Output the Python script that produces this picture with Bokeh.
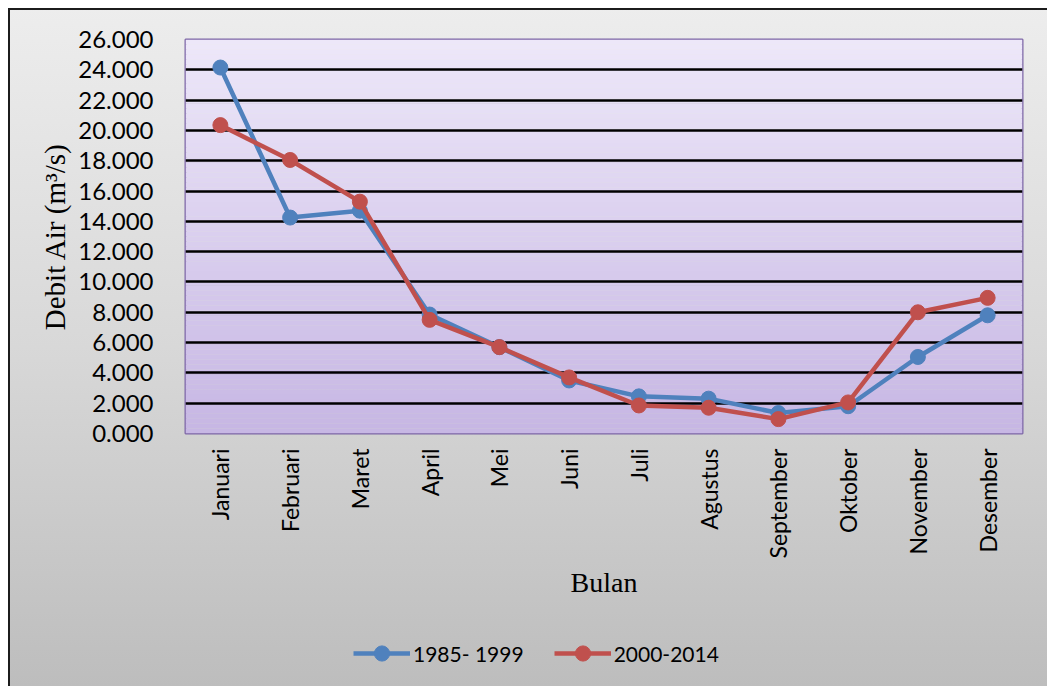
from bokeh.plotting import figure
from bokeh.layouts import column
from bokeh.models import (FactorRange, Range1d, FixedTicker, PrintfTickFormatter,
                          Legend, LegendItem, BoxAnnotation)
from bokeh.embed import file_html
from bokeh.resources import INLINE
import numpy as np
from math import pi

# Monthly mean river discharge (m3/s) for two periods
months = ["Januari", "Februari", "Maret", "April", "Mei", "Juni",
          "Juli", "Agustus", "September", "Oktober", "November", "Desember"]
debit_1985_1999 = [24.15, 14.25, 14.70, 7.85, 5.70, 3.50, 2.45, 2.30, 1.35, 1.80, 5.05, 7.80]
debit_2000_2014 = [20.35, 18.05, 15.30, 7.50, 5.70, 3.70, 1.85, 1.70, 0.95, 2.05, 8.00, 8.95]
series_labels = ["1985- 1999", "2000-2014"]
y_ticks = list(range(0, 27, 2))

BLUE = "#4f81bd"
RED = "#c0504d"
TICK_FONT = "Lato"
TITLE_FONT = "Liberation Serif"

W, H = 1047, 686
LEGEND_H = 60
FRAME_LEFT = 185

# chart-area background: light-to-mid grey gradient inside a thin dark frame
page_bg = ("linear-gradient(#1c1c1c,#1c1c1c) 8px 8px/1039px 2px no-repeat, "
           "linear-gradient(#1c1c1c,#1c1c1c) 8px 8px/2px 678px no-repeat, "
           "linear-gradient(180deg,#ededed 0%,#d8d8d8 50%,#bdbdbd 100%) 8px 8px/1039px 678px no-repeat, "
           "#ffffff")

p = figure(width=W, height=H - LEGEND_H, x_range=FactorRange(*months, range_padding=0),
           y_range=Range1d(0, 26), output_backend="svg", toolbar_location=None,
           min_border_left=FRAME_LEFT, min_border_right=25, min_border_top=39,
           min_border_bottom=H - LEGEND_H - 433)
p.border_fill_color = None
p.background_fill_color = None
p.outline_line_color = "#7d66a6"
p.outline_line_width = 2

# plot-area lavender gradient (darker at the bottom), built from thin bands
n_bands = 80
edges = np.linspace(0, 26, n_bands + 1)
top_rgb = np.array([238, 232, 250])
bot_rgb = np.array([199, 183, 228])
for i in range(n_bands):
    t = (i + 0.5) / n_bands
    c = (bot_rgb * (1 - t) + top_rgb * t).astype(int)
    p.add_layout(BoxAnnotation(bottom=edges[i], top=edges[i + 1],
                               fill_color="#%02x%02x%02x" % tuple(c), fill_alpha=1,
                               line_alpha=0, level="image"))

# soft shadow under each gridline
grid_vals = y_ticks[1:-1]
p.hspan(y=[v - 0.13 for v in grid_vals], line_color="#7d6f98", line_alpha=0.35,
        line_width=5, level="image")

p.xgrid.grid_line_color = None
p.ygrid.ticker = FixedTicker(ticks=grid_vals)
p.ygrid.grid_line_color = "#000000"
p.ygrid.grid_line_width = 2.5

# axes
p.yaxis.ticker = FixedTicker(ticks=y_ticks)
p.yaxis.formatter = PrintfTickFormatter(format="%.3f")
for ax in (p.xaxis[0], p.yaxis[0]):
    ax.axis_line_color = None
    ax.major_tick_line_color = None
    ax.minor_tick_line_color = None
    ax.major_label_text_color = "#000000"
    ax.major_label_text_font = TICK_FONT
    ax.axis_label_text_font = TITLE_FONT
    ax.axis_label_text_font_style = "normal"
    ax.axis_label_text_color = "#000000"

p.yaxis.major_label_text_font_size = "24px"
p.yaxis.major_label_standoff = 26
p.yaxis.axis_label = "Debit Air (m\u00b3/s)"
p.yaxis.axis_label_text_font_size = "29px"
p.yaxis.axis_label_standoff = 4

p.xaxis.major_label_text_font_size = "23px"
p.xaxis.major_label_orientation = pi / 2
p.xaxis.major_label_standoff = 9
p.xaxis.axis_label = "Bulan"
p.xaxis.axis_label_text_font_size = "28px"
p.xaxis.axis_label_standoff = 6

# series
series = [(debit_1985_1999, BLUE), (debit_2000_2014, RED)]
for vals, color in series:
    p.line(months, vals, line_color=color, line_width=4.5)
    p.scatter(months, vals, size=15, fill_color=color, line_color=color)

# legend strip under the chart; its renderers repeat the series but lie
# outside this strip's y-range, so only the legend keys show
lg = figure(width=W, height=LEGEND_H, x_range=FactorRange(*months, range_padding=0),
            y_range=Range1d(100, 101), output_backend="svg", toolbar_location=None,
            min_border_left=FRAME_LEFT, min_border_right=25,
            min_border_top=0, min_border_bottom=0)
lg.axis.visible = False
lg.grid.visible = False
lg.outline_line_color = None
lg.border_fill_color = None
lg.background_fill_color = None

items = []
for label, (vals, color) in zip(series_labels, series):
    lr = lg.line(months, vals, line_color=color, line_width=4.5)
    sr = lg.scatter(months, vals, size=15, fill_color=color, line_color=color)
    items.append(LegendItem(label=label, renderers=[lr, sr]))

legend = Legend(items=items, orientation="horizontal", location=(353 - FRAME_LEFT, 14),
                glyph_width=57, glyph_height=38, label_standoff=3, spacing=30,
                padding=0, margin=0, border_line_color=None,
                background_fill_alpha=0, label_text_font=TICK_FONT,
                label_text_font_size="21px", label_text_color="#000000")
lg.add_layout(legend, "center")

chart = column(p, lg, spacing=0, styles={"background": page_bg})

open("out.html", "w").write(file_html(chart, INLINE))
